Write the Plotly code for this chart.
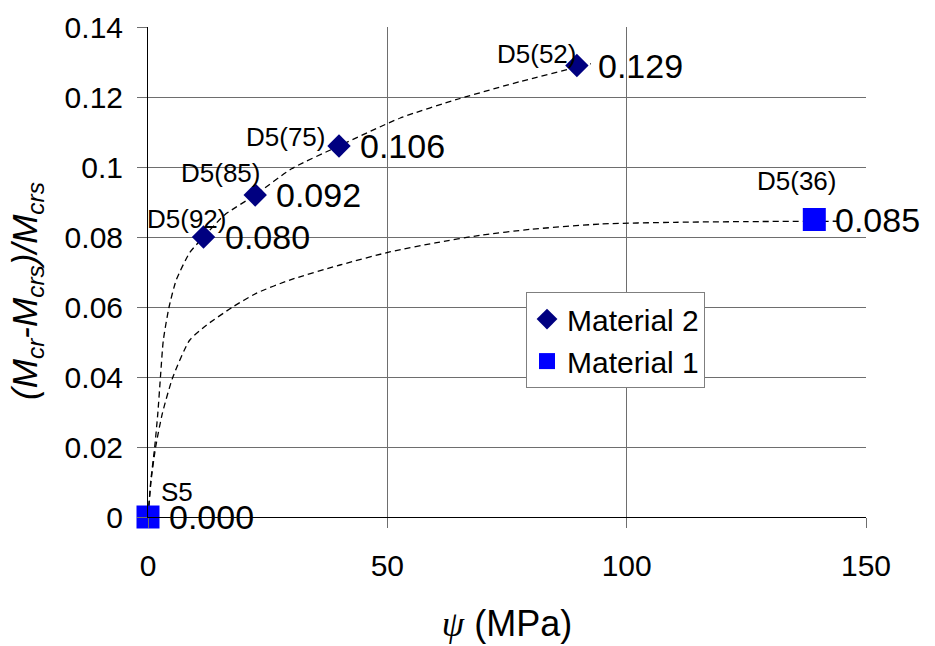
import plotly.graph_objects as go

# ---------------- data ----------------
m2_names = ["D5(92)", "D5(85)", "D5(75)", "D5(52)"]
m2_x = [11.6, 22.4, 39.9, 89.6]
m2_y = [0.080, 0.092, 0.106, 0.129]

m1_names = ["S5", "D5(36)"]
m1_x = [0.0, 139.2]
m1_y = [0.000, 0.085]

# dashed trend curves
m2_trend_x = [0, 0.6, 1.4, 2.05, 2.6, 3.2, 4.4, 5.9, 8.7, 11.6, 16, 22.4, 30, 39.9, 52.7, 65, 78, 89.6, 92.5]
m2_trend_y = [0, 0.0105, 0.020, 0.0296, 0.040, 0.0505, 0.060, 0.0677, 0.0755, 0.080, 0.0863, 0.092, 0.0995, 0.106,
              0.114, 0.1195, 0.1245, 0.1285, 0.1295]
m1_trend_x = [0, 0.65, 1.6, 3.0, 5.2, 8.7, 12.2, 17.7, 22.6, 29.6, 40.1, 50.7, 60, 69.4, 80, 94.5, 110, 125, 144]
m1_trend_y = [0, 0.0105, 0.020, 0.0296, 0.040, 0.0505, 0.0548, 0.060, 0.0639, 0.0677, 0.072, 0.0758, 0.0783,
              0.0805, 0.0822, 0.0837, 0.0842, 0.0844, 0.0845]

x_ticks = [0, 50, 100, 150]
y_ticks = [0, 0.02, 0.04, 0.06, 0.08, 0.10, 0.12, 0.14]
y_tick_text = ["0", "0.02", "0.04", "0.06", "0.08", "0.1", "0.12", "0.14"]

x_title = "<span style='font-family:Liberation Serif'><i>ψ</i></span> (MPa)"
y_title = "<i>(M<sub>cr</sub>-M<sub>crs</sub>)/M<sub>crs</sub></i>"

# label offsets (pixels, screen: +x right, +y down) for the name labels
m2_name_off = [(-17, -18), (-35, -22), (-53, -9), (-40, -12)]
m1_name_off = [(29, -25), (-18, -39)]

FONT = "Liberation Sans, Arial, sans-serif"

fig = go.Figure()

for tx, ty in [(m2_trend_x, m2_trend_y), (m1_trend_x, m1_trend_y)]:
    fig.add_trace(go.Scatter(x=tx, y=ty, mode="lines", showlegend=False,
                             line=dict(color="black", width=1.3, dash="6px,4px", shape="spline", smoothing=0.6),
                             hoverinfo="skip"))

fig.add_trace(go.Scatter(x=m2_x, y=m2_y, mode="markers", name="Material 2",
                         marker=dict(symbol="diamond", size=18, color="#000080"),
                         cliponaxis=False))
fig.add_trace(go.Scatter(x=m1_x, y=m1_y, mode="markers", name="Material 1",
                         marker=dict(symbol="square", size=23, color="#0000FF"),
                         cliponaxis=False))

annotations = []
for names, xs, ys, offs in [(m2_names, m2_x, m2_y, m2_name_off), (m1_names, m1_x, m1_y, m1_name_off)]:
    for n, xv, yv, (dx, dy) in zip(names, xs, ys, offs):
        annotations.append(dict(x=xv, y=yv, xref="x", yref="y", text=n, showarrow=False,
                                xanchor="center", yanchor="middle", xshift=dx, yshift=-dy,
                                font=dict(family=FONT, size=26, color="black")))
        annotations.append(dict(x=xv, y=yv, xref="x", yref="y", text=f"{yv:.3f}", showarrow=False,
                                xanchor="left", yanchor="middle", xshift=19, yshift=0,
                                font=dict(family=FONT, size=34, color="black")))

# y-axis title as rotated annotation
annotations.append(dict(x=-0.1688, y=0.461, xref="paper", yref="paper", text=y_title, showarrow=False,
                        textangle=-90, xanchor="center", yanchor="middle",
                        font=dict(family=FONT, size=35, color="black")))

fig.update_layout(
    width=935, height=646,
    margin=dict(l=148, r=69, t=27, b=129),
    paper_bgcolor="white", plot_bgcolor="white",
    font=dict(family=FONT, size=30, color="black"),
    annotations=annotations,
    legend=dict(x=0.5265, y=0.459, xanchor="left", yanchor="top",
                bgcolor="white", bordercolor="#7f7f7f", borderwidth=1,
                font=dict(family=FONT, size=30, color="black"),
                itemwidth=30, tracegroupgap=0),
    xaxis=dict(range=[0, 150], tickvals=x_ticks, ticktext=[str(v) for v in x_ticks],
               showgrid=True, gridcolor="#6e6e6e", gridwidth=1,
               showline=True, linecolor="black", linewidth=1, mirror=False,
               ticks="outside", ticklen=10, tickcolor="#6e6e6e",
               zeroline=False, tickfont=dict(family=FONT, size=30), ticklabelstandoff=12,
               title=dict(text=x_title, font=dict(family=FONT, size=36), standoff=29),
               automargin=False),
    yaxis=dict(range=[0, 0.14], tickvals=y_ticks, ticktext=y_tick_text,
               showgrid=True, gridcolor="#6e6e6e", gridwidth=1,
               showline=True, linecolor="black", linewidth=1,
               ticks="outside", ticklen=10, tickcolor="#6e6e6e",
               zeroline=False, tickfont=dict(family=FONT, size=30), ticklabelstandoff=8,
               automargin=False),
)

fig.write_html("out.html")
